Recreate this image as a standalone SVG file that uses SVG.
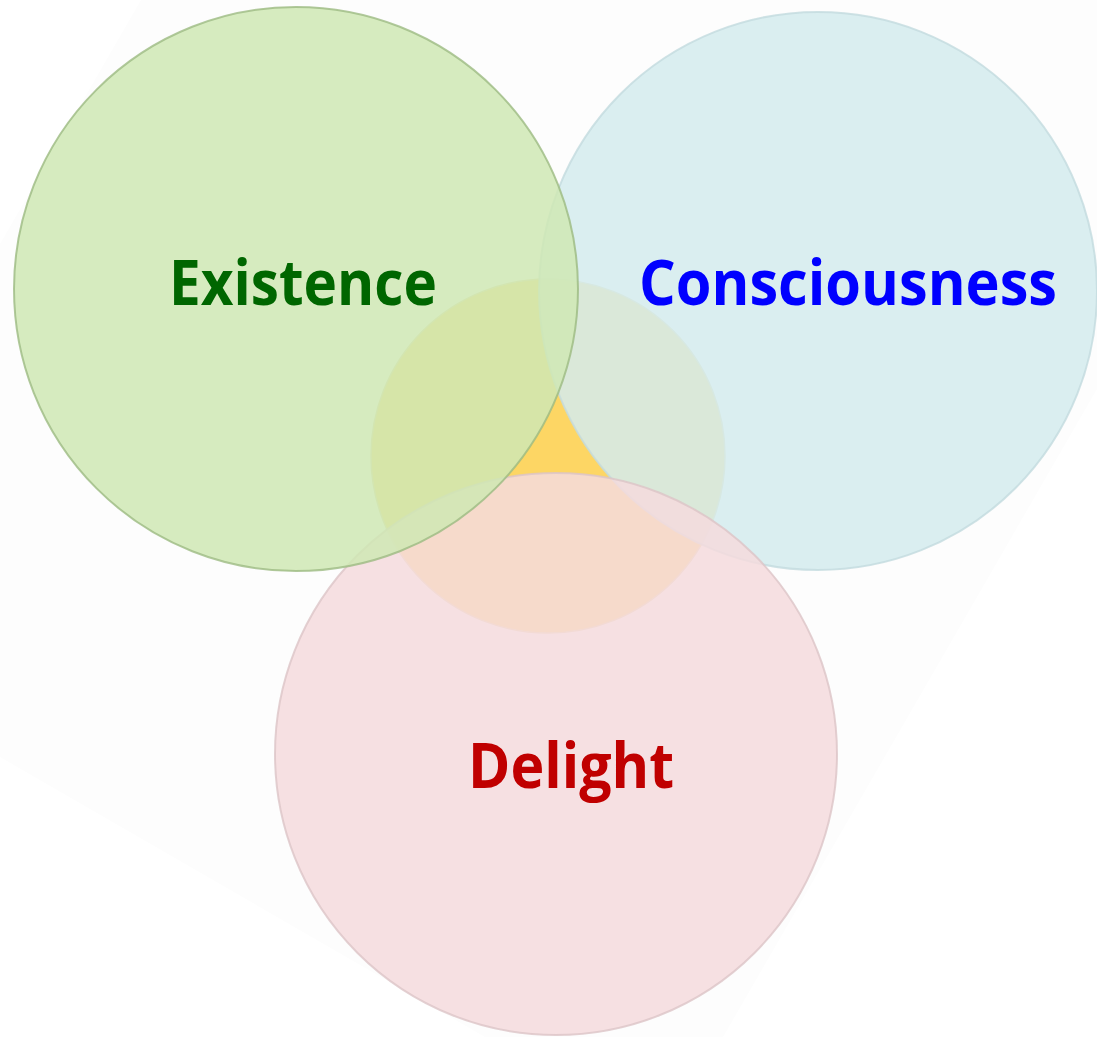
<svg xmlns="http://www.w3.org/2000/svg" width="1097" height="1037" viewBox="0 0 1097 1037">
  <style>
    .big { fill-opacity: 0.85; stroke-width: 2; stroke-opacity: 0.8; }
    .label { font-family: "Open Sans", "Noto Sans", "Liberation Sans", sans-serif; font-weight: 700; font-size: 63px; }
  </style>
  <rect x="0" y="0" width="1097" height="1037" fill="#ffffff"/>
  <polygon id="backdrop" points="141,0 1097,0 1097,389 723,1037 485,1037 0,757 0,244" fill="#fdfdfd"/>

  <g id="core">
    <circle cx="548" cy="456" r="177" fill="#fdd664" stroke="#e8d8a0" stroke-width="1.5"/>
  </g>

  <g id="consciousness">
    <circle class="big" cx="818" cy="291" r="279" fill="rgb(212,235,237)" stroke="#c3dbdf"/>
    <text class="label" x="639" y="305" fill="#0000ff" textLength="418" lengthAdjust="spacingAndGlyphs">Consciousness</text>
  </g>

  <g id="delight">
    <circle class="big" cx="556" cy="754" r="281" fill="rgb(244,218,221)" stroke="#dcc4c7"/>
    <text class="label" x="468" y="788" fill="#c00000" textLength="206" lengthAdjust="spacingAndGlyphs">Delight</text>
  </g>

  <g id="existence">
    <circle class="big" cx="296" cy="289" r="282" fill="rgb(207,231,180)" stroke="#9cba82"/>
    <text class="label" x="169" y="305" fill="#006600" textLength="268" lengthAdjust="spacingAndGlyphs">Existence</text>
  </g>

  <g id="connectors"/>
</svg>
